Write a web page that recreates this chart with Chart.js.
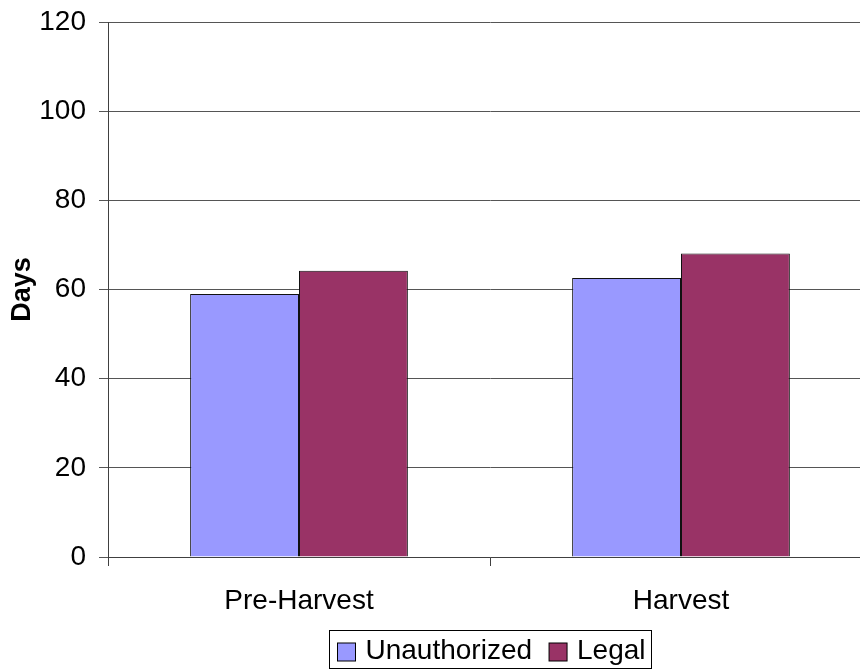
<!DOCTYPE html>
<html>
<head>
<meta charset="utf-8">
<script src="https://cdn.jsdelivr.net/npm/chart.js@4"></script>
<style>
  html, body { margin: 0; padding: 0; background: #fff; overflow: hidden; }
  #wrap { width: 860px; height: 671px; overflow: hidden; position: relative; }
  #box { width: 872px; height: 671px; }
</style>
</head>
<body>
<div id="wrap"><div id="box"><canvas id="c" width="872" height="671"></canvas></div></div>
<script>
// Days by period and type
const categories = ['Pre-Harvest', 'Harvest'];
const unauthorized = [59.0, 62.6];
const legal = [64.2, 68.1];
const yTicks = [0, 20, 40, 60, 80, 100, 120];

const FONT = "'Liberation Sans', Arial, Helvetica, sans-serif";

// Boxed legend centred under the plot area
const boxLegend = {
  id: 'boxLegend',
  afterDraw(chart) {
    const ctx = chart.ctx;
    const area = chart.chartArea;
    ctx.save();
    ctx.font = '28px ' + FONT;
    ctx.textBaseline = 'middle';
    const sw = 18, gap = 10, itemGap = 17, padL = 8, padR = 6;
    const items = chart.data.datasets.map(ds => ({
      label: ds.label, color: ds.backgroundColor, w: ctx.measureText(ds.label).width
    }));
    let total = padL + padR;
    items.forEach((it, i) => { total += sw + gap + it.w + (i < items.length - 1 ? itemGap : 0); });
    const cx = (area.left + area.right) / 2;
    const top = 630, h = 38;
    const x = Math.round(cx - total / 2) + 0.5;
    ctx.strokeStyle = '#000';
    ctx.lineWidth = 1;
    ctx.strokeRect(x, top + 0.5, Math.round(total), h);
    let cur = x + padL;
    const cy = top + 22;
    items.forEach(it => {
      ctx.fillStyle = it.color;
      ctx.fillRect(cur, cy - sw / 2, sw, sw);
      ctx.strokeStyle = '#000';
      ctx.strokeRect(cur, cy - sw / 2, sw, sw);
      cur += sw + gap;
      ctx.fillStyle = '#000';
      ctx.fillText(it.label, cur, cy - 1);
      cur += it.w + itemGap;
    });
    ctx.restore();
  }
};

new Chart(document.getElementById('c'), {
  type: 'bar',
  data: {
    labels: categories,
    datasets: [
      { label: 'Unauthorized', data: unauthorized, backgroundColor: '#9999FF', borderColor: '#111', borderWidth: 1 },
      { label: 'Legal', data: legal, backgroundColor: '#993366', borderColor: '#111', borderWidth: 1 }
    ]
  },
  options: {
    responsive: false,
    animation: false,
    devicePixelRatio: 1,
    layout: { padding: { top: 22, left: 0, right: 0, bottom: 0 } },
    plugins: { legend: { display: false }, tooltip: { enabled: false } },
    datasets: { bar: { categoryPercentage: 0.57, barPercentage: 1.0 } },
    scales: {
      x: {
        offset: true,
        afterFit(scale) { scale.height = 114; scale.paddingLeft = 0; scale.paddingRight = 0; },
        grid: { offset: true, drawOnChartArea: false, tickLength: 9, color: '#404040', lineWidth: 1 },
        border: { color: '#404040', width: 1 },
        ticks: { color: '#000', font: { family: FONT, size: 28 }, padding: 18, maxRotation: 0 }
      },
      y: {
        min: 0,
        max: 120,
        afterFit(scale) { scale.width = 108; scale.paddingTop = 0; scale.paddingBottom = 0; },
        afterBuildTicks(scale) { scale.ticks = yTicks.map(v => ({ value: v })); },
        grid: { color: '#555', lineWidth: 1, tickLength: 9 },
        border: { color: '#404040', width: 1 },
        ticks: { color: '#000', font: { family: FONT, size: 28 }, padding: 13 },
        title: {
          display: true, text: 'Days', color: '#000',
          font: { family: FONT, size: 27, weight: 'bold' },
          padding: { top: 6, bottom: 0 }
        }
      }
    }
  },
  plugins: [boxLegend]
});
</script>
</body>
</html>
